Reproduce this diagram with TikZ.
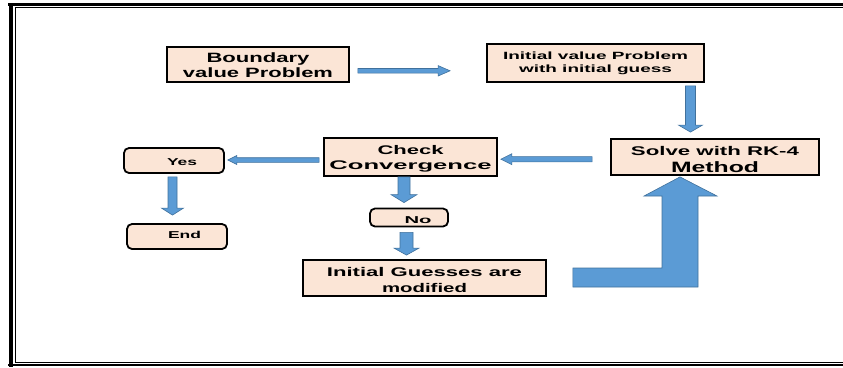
\documentclass[tikz,border=0pt]{standalone}
\usepackage{fontspec}
\setmainfont{Liberation Sans}
\usepackage{graphicx}
\usetikzlibrary{calc}
\definecolor{boxfill}{HTML}{FBE5D6}
\definecolor{arrowfill}{HTML}{5B9BD5}
\definecolor{arrowedge}{HTML}{41719C}
\newcommand\fw[2]{\resizebox{#1pt}{\height}{#2}}
\newcommand\tstrut[1]{\rule{0pt}{#1pt}}
% #1 start, #2 tip, #3 shaft half width, #4 head half width, #5 head length
\newcommand\blockarrow[5]{%
  \coordinate (hb) at ($(#2)!#5!(#1)$);
  \path[blockarrowstyle] ($(#1)!#3!90:(#2)$) -- ($(hb)!#3!90:(#2)$) -- ($(hb)!#4!90:(#2)$)
    -- (#2) -- ($(hb)!#4!-90:(#2)$) -- ($(hb)!#3!-90:(#2)$) -- ($(#1)!#3!-90:(#2)$) -- cycle;}
\begin{document}
\begin{tikzpicture}[x=1pt,y=-1pt,
  box/.style={draw=black, line width=1.8pt, fill=boxfill, inner sep=0pt, align=center},
  rbox/.style={box, rounded corners=5pt},
  blockarrowstyle/.style={fill=arrowfill, draw=arrowedge, line width=0.6pt},
  frame/.style={draw=black, line cap=rect}]
\useasboundingbox (0,0) rectangle (843,367);
% frame
\draw[frame, line width=4pt] (11,4.5) -- (11,365.3);
\draw[frame, line width=2.5pt] (9,4.3) -- (843,4.3);
\draw[frame, line width=1pt] (15,7) -- (843,7);
\draw[frame, line width=1pt] (15,7) -- (15,362.5);
\draw[frame, line width=1pt] (15,362.5) -- (843,362.5);
\draw[frame, line width=2pt] (9,365.3) -- (843,365.3);
% boxes
\node[box, minimum width=182pt, minimum height=35pt, font=\fontsize{13.5}{15}\selectfont\bfseries] (bvp) at (258,64.5)
  {\tstrut{11.9}\fw{103}{Boundary}\\\fw{150}{value Problem}};
\node[box, minimum width=217pt, minimum height=38pt, font=\fontsize{10.5}{13}\selectfont\bfseries] (ivp) at (595.5,63)
  {\fw{185}{Initial value Problem}\\\fw{153}{with initial guess}};
\node[box, minimum width=208pt, minimum height=36pt, font=\fontsize{12.6}{17}\selectfont\bfseries] (solve) at (715,157)
  {\tstrut{14.8}\fw{168}{Solve with RK-4}\\{\fontsize{15}{17}\selectfont\fw{88}{Method}}};
\node[box, minimum width=173pt, minimum height=38pt, font=\fontsize{12.5}{15}\selectfont\bfseries] (check) at (410.5,157)
  {\tstrut{12.6}\fw{66}{Check}\\\fw{162}{Convergence}};
\node[rbox, minimum width=100pt, minimum height=25pt, text height=11pt, font=\fontsize{10}{12}\selectfont\bfseries] (yes) at (174,160.5)
  {\hspace*{16pt}\fw{30}{Yes}};
\node[rbox, minimum width=100pt, minimum height=25pt, text depth=3pt, font=\fontsize{10}{12}\selectfont\bfseries] (end) at (177,236.5)
  {\hspace*{15pt}\fw{33}{End}};
\node[rbox, minimum width=78pt, minimum height=18pt, text height=11.5pt, font=\fontsize{10}{12}\selectfont\bfseries] (no) at (409,217.5)
  {\hspace*{18pt}\fw{27}{No}};
\node[box, minimum width=243pt, minimum height=36pt, font=\fontsize{12.6}{16}\selectfont\bfseries] (ig) at (424.5,278)
  {\tstrut{13.2}\fw{195}{Initial Guesses are}\\\fw{85}{modified}};
% arrow end points
\coordinate (a1s) at ($(bvp.east)+(8,6.3)$);
\coordinate (a1e) at ($(ivp.west)+(-36,7.8)$);
\coordinate (a2s) at ($(ivp.south)+(95,3)$);
\coordinate (a2e) at ($(solve.north)+(-24.5,-6)$);
\coordinate (a3s) at ($(solve.west)+(-18,2.2)$);
\coordinate (a3e) at ($(check.east)+(3,2.2)$);
\coordinate (a4s) at ($(check.west)+(-4,3)$);
\coordinate (a4e) at ($(yes.east)+(3,-0.5)$);
\coordinate (a5s) at ($(yes.south)+(-1.5,3)$);
\coordinate (a5e) at ($(end.north)+(-4.5,-8)$);
\coordinate (a6s) at ($(check.south)+(-6.5,0)$);
\coordinate (a6e) at ($(no.north)+(-5,-5)$);
\coordinate (a7s) at ($(no.south)+(-2.5,5)$);
\coordinate (a7e) at ($(ig.north)+(-18,-4)$);
\blockarrow{a1s}{a1e}{2.3pt}{5.2pt}{12pt}
\blockarrow{a2s}{a2e}{5pt}{12pt}{7pt}
\blockarrow{a3s}{a3e}{2.6pt}{5.5pt}{11pt}
\blockarrow{a4s}{a4e}{2.3pt}{4.5pt}{9pt}
\blockarrow{a5s}{a5e}{4.5pt}{11pt}{7pt}
\blockarrow{a6s}{a6e}{6pt}{13pt}{8pt}
\blockarrow{a7s}{a7e}{6.5pt}{12.5pt}{7pt}
% big L-shaped arrow from modified guesses back to the solver
\coordinate (Ltip) at ($(solve.south)+(-35,1)$);
\coordinate (Lend) at ($(ig.east)+(26,0)$);
\path[blockarrowstyle] (Lend |- 0,268) -- (662,268) -- (662,196) -- (644,196) -- (Ltip)
  -- (717,196) -- (698,196) -- (698,287) -- (Lend |- 0,287) -- cycle;
\end{tikzpicture}
\end{document}
